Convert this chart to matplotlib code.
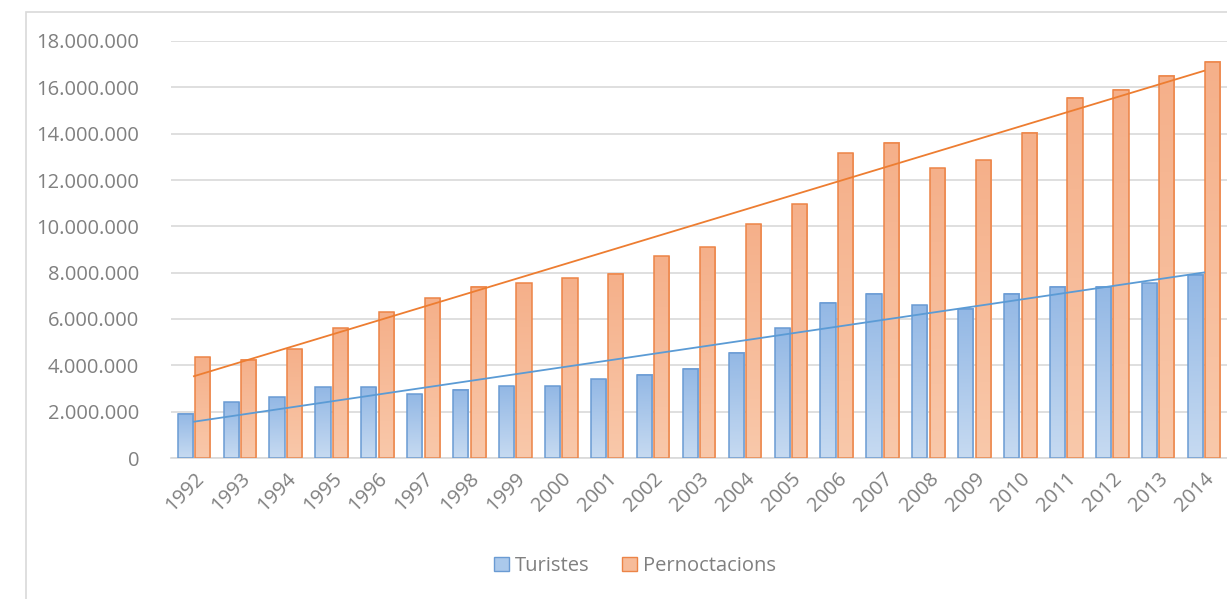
import numpy as np
import matplotlib.pyplot as plt
from matplotlib.patches import Patch, Rectangle
from matplotlib.colors import LinearSegmentedColormap
from matplotlib.ticker import FuncFormatter

years = [str(y) for y in range(1992, 2015)]
turistes = [1.90, 2.40, 2.62, 3.05, 3.05, 2.75, 2.95, 3.10, 3.10, 3.40, 3.60, 3.85,
            4.55, 5.60, 6.70, 7.10, 6.60, 6.45, 7.10, 7.40, 7.40, 7.55, 7.90]
pernoctacions = [4.35, 4.25, 4.70, 5.60, 6.30, 6.90, 7.40, 7.55, 7.75, 7.95, 8.70, 9.10,
                 10.10, 10.95, 13.15, 13.60, 12.50, 12.85, 14.05, 15.55, 15.90, 16.50, 17.10]
turistes = np.array(turistes) * 1e6
pernoctacions = np.array(pernoctacions) * 1e6

plt.rcParams['font.family'] = ['Open Sans', 'DejaVu Sans']
txt = '#808080'
grid = '#d9d9d9'

fig = plt.figure(figsize=(12.27, 5.99), dpi=100)
ax = fig.add_axes([171/1227, 141/599, 1056/1227, 417/599])

x = np.arange(len(years))
w = 0.33
off = 0.19

blue_cm = LinearSegmentedColormap.from_list('b', ['#c6daf1', '#93b8e5'])
orng_cm = LinearSegmentedColormap.from_list('o', ['#f9c8aa', '#f5b08a'])
grad = np.linspace(0, 1, 64).reshape(-1, 1)

def grad_bars(xs, vals, cmap, edge):
    for xi, v in zip(xs, vals):
        ax.imshow(grad, extent=[xi - w/2, xi + w/2, 0, v], origin='lower',
                  aspect='auto', cmap=cmap, interpolation='bicubic', zorder=2)
    ax.bar(xs, vals, w, facecolor='none', edgecolor=edge, linewidth=1.1, zorder=3)

grad_bars(x - off, turistes, blue_cm, '#6a9bd3')
grad_bars(x + off, pernoctacions, orng_cm, '#ec8447')

# linear trend lines
for vals, col in [(turistes, '#5b9bd5'), (pernoctacions, '#ed7d31')]:
    k, b = np.polyfit(x, vals, 1)
    ax.plot([x[0], x[-1]], [k*x[0] + b, k*x[-1] + b], color=col, lw=1.3, zorder=4)

ax.set_xlim(-0.5, len(years) - 0.5)
ax.set_ylim(0, 18e6)
ax.set_yticks(np.arange(0, 18e6 + 1, 2e6))
ax.yaxis.set_major_formatter(FuncFormatter(lambda v, p: f"{int(v):,}".replace(",", ".")))
ax.set_xticks(x)
ax.set_xticklabels(years, rotation=45, ha='right', rotation_mode='anchor')
ax.tick_params(axis='both', length=0, colors=txt, labelsize=14.5)
ax.tick_params(axis='y', pad=23)
ax.tick_params(axis='x', pad=8)
ax.grid(axis='y', color=grid, lw=1.2, zorder=0)
ax.set_axisbelow(True)
for s in ['top', 'right', 'left']:
    ax.spines[s].set_visible(False)
ax.spines['bottom'].set_color(grid)
ax.spines['bottom'].set_linewidth(1.2)

fig.patches.append(Rectangle((26/1227, -0.05), 1.1, 1.05 - 12/599, transform=fig.transFigure,
                             fill=False, edgecolor=grid, lw=1.2))

handles = [Patch(facecolor='#abc9eb', edgecolor='#6a9bd3', label='Turistes'),
           Patch(facecolor='#f7bc9a', edgecolor='#ec8447', label='Pernoctacions')]
fig.legend(handles=handles, loc='center', bbox_to_anchor=(635/1227, 33/599), ncol=2,
           frameon=False, fontsize=14.5, labelcolor=txt, handlelength=0.75, handleheight=0.75,
           handletextpad=0.3, columnspacing=1.6)

fig.savefig('out.png', dpi=100)
